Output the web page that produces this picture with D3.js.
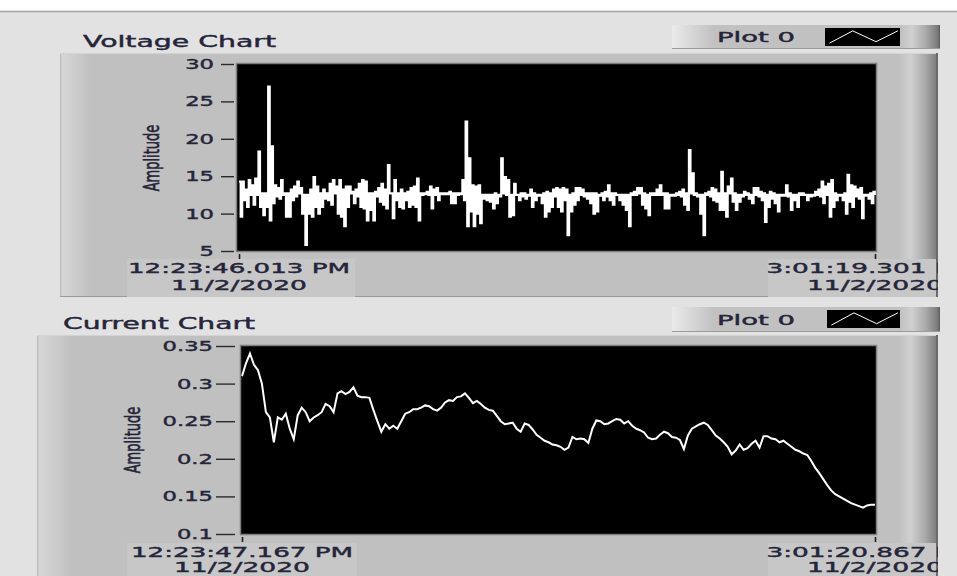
<!DOCTYPE html>
<html>
<head>
<meta charset="utf-8">
<script src="https://cdn.jsdelivr.net/npm/d3@7"></script>
<style>
  body { margin: 0; background: #ffffff; }
  svg { display: block; }
  text { font-family: "DejaVu Sans", sans-serif; fill: #25253a; stroke: #25253a; stroke-width: 0.4px; }
</style>
</head>
<body>
<svg id="chart" width="957" height="576"></svg>
<script>
// ---- data -------------------------------------------------------------
// Voltage samples (V), logged at a steady rate between the two time stamps.
const voltage = [
  14.3,9.6, 14.3,11.8, 13.2,10.9, 14.5,12.5, 13.8,11.2, 14.7,12.5, 18.3,10.9, 12.7,9.8, 12.7,10.9, 27.0,9.1,
  19.0,11.4, 13.8,12.3, 13.4,12.0, 14.5,12.5, 12.7,9.6, 12.7,9.6, 13.2,11.8, 13.6,12.3, 14.3,12.7, 13.4,10.0,
  12.5,5.8, 12.5,10.0, 13.2,9.6, 14.9,10.9, 13.6,10.0, 12.7,10.9, 13.2,12.0, 12.7,11.8, 14.0,11.2, 14.5,12.7,
  13.6,10.0, 14.5,9.6, 13.2,8.3, 13.6,10.9, 13.6,12.7, 12.9,11.4, 13.2,12.3, 14.0,10.9, 14.5,10.7, 14.3,9.1,
  12.7,10.5, 12.7,9.1, 12.9,12.3, 13.4,11.6, 14.0,11.2, 13.2,10.7, 16.5,12.7, 12.7,9.4, 14.5,11.8, 12.7,10.9,
  13.2,10.7, 12.7,11.8, 12.9,10.9, 13.4,11.2, 13.6,10.9, 14.7,9.1, 12.7,12.5, 12.7,12.6, 12.9,12.5, 13.6,10.7,
  13.2,12.5, 13.4,11.8, 12.7,12.6, 12.7,12.6, 12.7,12.6, 12.9,11.4,
  12.7,11.4, 12.7,12.5, 12.7,12.6, 14.5,11.8, 22.3,8.3, 17.4,10.3, 13.8,8.3, 13.6,10.0, 13.8,8.7, 12.5,12.0,
  12.5,11.8, 12.5,11.6, 12.5,10.7, 12.7,11.4, 12.5,12.3, 17.4,12.7, 14.9,12.5, 14.5,9.6, 12.5,9.8, 14.0,12.5,
  12.5,11.8, 12.7,12.3, 12.7,12.0, 12.5,12.4, 13.2,10.9, 12.7,11.8, 12.5,12.4, 12.5,11.4, 12.7,9.6, 12.9,10.3,
  12.7,10.9, 13.2,12.3, 13.4,10.9, 13.2,10.3, 13.4,11.8, 13.2,7.1, 12.5,10.3, 12.7,11.2, 13.4,11.8, 13.4,12.5,
  13.2,12.3, 12.7,12.0, 12.7,11.4, 12.7,10.0, 12.7,10.3, 12.5,12.4, 12.7,11.8, 12.9,12.3, 13.8,11.8, 12.7,11.2,
  12.7,12.5, 12.5,11.8, 12.5,11.2, 12.5,10.5, 12.5,8.3, 12.7,12.5, 12.9,12.5, 13.4,12.7, 13.4,11.2, 12.7,10.7,
  12.5,9.8, 12.7,12.5, 12.7,12.5, 13.2,12.5, 13.8,12.5, 12.7,10.7,
  12.7,10.7, 12.5,12.4, 12.5,12.4, 12.7,12.5, 12.9,12.3, 13.2,11.2, 12.7,10.5, 18.5,12.7, 15.4,12.5, 12.7,12.3,
  12.5,10.0, 12.5,7.1, 12.7,12.5, 12.9,12.3, 13.4,11.8, 13.2,11.6, 12.7,10.5, 15.6,10.5, 12.7,9.6, 13.6,12.7,
  14.7,11.6, 12.7,10.5, 12.5,11.6, 12.5,12.3, 12.9,12.5, 12.7,12.0, 12.5,11.4, 13.4,12.5, 13.4,12.3, 12.9,11.8,
  12.7,8.9, 12.5,10.9, 12.9,12.0, 12.7,11.4, 12.5,10.3, 12.5,12.4, 12.5,12.4, 13.8,12.3, 12.7,10.5, 12.5,11.8,
  12.5,10.9, 12.7,12.5, 12.7,12.5, 12.5,11.8, 12.5,12.3, 12.5,12.4, 12.9,12.5, 13.2,12.3, 14.3,11.4, 13.6,12.5,
  14.0,9.6, 14.5,10.9, 12.7,11.8, 12.5,12.4, 12.5,11.8, 12.7,10.0, 15.2,11.6, 13.8,10.9, 13.6,12.3, 13.2,12.0,
  13.4,9.4, 12.5,12.4, 12.5,12.0, 12.7,11.4, 12.9,12.5
];

// Current samples (A)
const current = [
  0.310,0.327,0.340,0.325,0.318,0.300,0.262,0.255,0.222,0.255,0.252,0.260,0.240,0.226,0.258,0.268,0.262,0.250,
  0.255,0.258,0.262,0.273,0.270,0.262,0.287,0.290,0.286,0.289,0.295,0.284,0.282,0.282,0.281,0.265,0.250,0.236,
  0.246,0.240,0.244,0.240,0.250,0.260,0.262,0.266,0.266,0.268,0.271,0.270,0.266,0.264,0.268,0.275,0.278,
  0.277,0.282,0.283,0.287,0.281,0.274,0.277,0.273,0.268,0.265,0.264,0.257,0.250,0.246,0.247,0.248,0.240,0.236,
  0.247,0.245,0.239,0.232,0.228,0.224,0.222,0.219,0.218,0.216,0.212,0.215,0.229,0.226,0.227,0.226,0.221,0.240,
  0.251,0.250,0.246,0.247,0.250,0.253,0.252,0.247,0.250,0.244,0.240,0.238,0.235,0.228,0.226,0.227,0.232,0.236,
  0.234,0.229,0.228,0.225,0.213,0.231,0.240,0.243,0.246,0.248,0.245,0.238,0.231,0.227,0.222,0.216,0.206,0.211,
  0.219,0.212,0.214,0.220,0.224,0.215,0.230,0.230,0.227,0.226,0.222,0.224,0.220,0.216,0.212,0.210,0.207,0.205,
  0.197,0.188,0.181,0.173,0.165,0.158,0.153,0.150,0.147,0.144,0.141,0.139,0.137,0.135,0.138,0.139,0.139
];

const voltageTicks = [5, 10, 15, 20, 25, 30];
const currentTicks = [0.1, 0.15, 0.2, 0.25, 0.3, 0.35];

const voltageSpan = [new Date(2020, 10, 2, 12, 23, 46, 13),  new Date(2020, 10, 2, 15, 1, 19, 301)];
const currentSpan = [new Date(2020, 10, 2, 12, 23, 47, 167), new Date(2020, 10, 2, 15, 1, 20, 867)];

const titles = ["Voltage Chart", "Current Chart"];
const plotName = "Plot 0";
const yTitle = "Amplitude";

// ---- drawing ----------------------------------------------------------
const svg = d3.select("#chart");
const SX = 1.62;                      // horizontal glyph stretch of the panel font
const fmtTime = d3.timeFormat("%-I:%M:%S.%L %p");
const fmtDate = d3.timeFormat("%-m/%-d/%Y");

const defs = svg.append("defs");
function hGrad(id, stops) {
  const g = defs.append("linearGradient").attr("id", id).attr("x1", 0).attr("x2", 1).attr("y1", 0).attr("y2", 0);
  stops.forEach(([o, c]) => g.append("stop").attr("offset", o).attr("stop-color", c));
}
hGrad("bevelL", [[0, "#b4b4b4"], [0.06, "#d6d6d6"], [0.55, "#cbcbcb"], [1, "#bfbfbf"]]);
hGrad("bevelR", [[0, "#c0c0c0"], [0.3, "#d0d0d0"], [0.65, "#a9a9a9"], [0.93, "#7c7c7c"], [1, "#5c5c5c"]]);
hGrad("legL",   [[0, "#eaeaea"], [1, "#c1c1c1"]]);

// window background
svg.append("rect").attr("width", 957).attr("height", 576).attr("fill", "#e2e2e2");
svg.append("rect").attr("width", 957).attr("height", 11).attr("fill", "#ffffff");
svg.append("line").attr("x1", 0).attr("x2", 957).attr("y1", 11.5).attr("y2", 11.5)
  .attr("stroke", "#a3a3a3").attr("stroke-width", 1.5);

function fitText(sel, width) {
  return sel.attr("textLength", width).attr("lengthAdjust", "spacingAndGlyphs");
}

function drawChart(cfg) {
  const g = svg.append("g");
  const P = cfg.panel, A = cfg.plot;

  // title
  fitText(g.append("text").attr("x", cfg.title.x).attr("y", cfg.title.y)
    .attr("font-size", 15).text(cfg.title.text), cfg.title.w);

  // legend box
  const L = cfg.legend;
  g.append("rect").attr("x", L.x).attr("y", L.y).attr("width", L.w).attr("height", L.h).attr("fill", "#c1c1c1");
  g.append("rect").attr("x", L.x).attr("y", L.y).attr("width", 42).attr("height", L.h).attr("fill", "url(#legL)");
  g.append("rect").attr("x", L.x + L.w - 40).attr("y", L.y).attr("width", 40).attr("height", L.h).attr("fill", "url(#bevelR)");
  g.append("line").attr("x1", L.x).attr("x2", L.x + L.w).attr("y1", L.y + L.h - 0.5).attr("y2", L.y + L.h - 0.5)
    .attr("stroke", "#9c9c9c");
  fitText(g.append("text").attr("x", L.x + 45).attr("y", L.y + L.h - 7)
    .attr("font-size", 14).text(plotName), 78);
  const S = cfg.swatch;
  g.append("rect").attr("x", S.x).attr("y", S.y).attr("width", S.w).attr("height", S.h).attr("fill", "#000");
  const sx = d3.scaleLinear().range([S.x, S.x + S.w]);
  const sy = d3.scaleLinear().range([S.y, S.y + S.h]);
  const icon = [[0.06, 0.84], [0.37, 0.16], [0.68, 0.76], [0.97, 0.16]];
  g.append("path").attr("d", d3.line(d => sx(d[0]), d => sy(d[1]))(icon))
    .attr("fill", "none").attr("stroke", "#fff").attr("stroke-width", 1);

  // panel frame
  const clipId = cfg.id + "-panel";
  defs.append("clipPath").attr("id", clipId).append("rect")
    .attr("x", P.x).attr("y", P.y).attr("width", P.w - 2).attr("height", P.h);
  const pg = g.append("g").attr("clip-path", `url(#${clipId})`);
  pg.append("rect").attr("x", P.x).attr("y", P.y).attr("width", P.w).attr("height", P.h).attr("fill", "#c0c0c0");
  pg.append("rect").attr("x", P.x).attr("y", P.y).attr("width", cfg.bevel).attr("height", P.h).attr("fill", "url(#bevelL)");
  pg.append("rect").attr("x", P.x + P.w - 42).attr("y", P.y).attr("width", 42).attr("height", P.h).attr("fill", "url(#bevelR)");
  pg.append("line").attr("x1", P.x).attr("x2", P.x + P.w).attr("y1", P.y + 0.5).attr("y2", P.y + 0.5).attr("stroke", "#d2d2d2");
  pg.append("line").attr("x1", P.x).attr("x2", P.x + P.w).attr("y1", P.y + P.h - 0.5).attr("y2", P.y + P.h - 0.5).attr("stroke", "#9a9a9a");
  cfg.labelBoxes.forEach(b => pg.append("rect").attr("x", b[0]).attr("y", b[1]).attr("width", b[2]).attr("height", b[3]).attr("fill", "#c7c7c7"));
  pg.append("rect").attr("x", P.x + P.w - 4).attr("y", P.y).attr("width", 4).attr("height", P.h).attr("fill", "#6a6a6a");

  // scales
  const x = d3.scaleTime().domain(cfg.span).range(cfg.xRange);
  const idx = d3.scaleLinear().domain([0, cfg.values.length - 1]).range(cfg.span);
  const y = d3.scaleLinear().domain(cfg.yDomain).range([A.y + A.h, A.y]);

  // y axis
  const ya = pg.append("g").attr("transform", `translate(${cfg.yAxisX},0)`)
    .call(d3.axisLeft(y).tickValues(cfg.yTicks).tickFormat(d3.format("~g"))
      .tickSize(cfg.tickLen).tickPadding(cfg.tickPad));
  ya.select(".domain").remove();
  ya.selectAll(".tick line").attr("stroke", "#2a2a2a").attr("stroke-width", 1.4);
  ya.selectAll(".tick text").attr("font-size", 14).attr("font-family", "DejaVu Sans").attr("fill", "#25253a")
    .each(function () {
      const t = d3.select(this);
      const tx = +t.attr("x");
      t.attr("x", 0).attr("transform", `translate(${tx},0) scale(${SX},1)`);
    });

  // y title
  pg.append("text").attr("transform", `translate(${cfg.yTitle[0]},${cfg.yTitle[1]}) scale(${SX},1) rotate(-90)`)
    .attr("text-anchor", "middle").attr("font-size", 13).text(yTitle);

  // plot area
  pg.append("rect").attr("x", A.x).attr("y", A.y).attr("width", A.w).attr("height", A.h).attr("fill", "#000");
  const plotClip = cfg.id + "-plot";
  defs.append("clipPath").attr("id", plotClip).append("rect")
    .attr("x", A.x).attr("y", A.y).attr("width", A.w).attr("height", A.h);
  pg.append("path").attr("clip-path", `url(#${plotClip})`)
    .attr("d", d3.line().curve(cfg.curve).x((d, i) => x(idx(i))).y(d => y(d))(cfg.values))
    .attr("fill", "none").attr("stroke", "#ffffff").attr("stroke-width", cfg.lineWidth)
    .attr("stroke-linejoin", "miter");
  pg.append("rect").attr("x", A.x - 0.5).attr("y", A.y - 0.5).attr("width", A.w + 1).attr("height", A.h + 1)
    .attr("fill", "none").attr("stroke", "#7e7e7e").attr("stroke-width", 1.5);

  // x axis: end ticks and two-line time stamps
  const xa = pg.append("g").attr("transform", `translate(0,${A.y + A.h + 3})`)
    .call(d3.axisBottom(x).tickValues(cfg.span).tickFormat("").tickSize(5));
  xa.select(".domain").remove();
  xa.selectAll(".tick line").attr("stroke", "#1e1e1e").attr("stroke-width", 1.6);
  cfg.span.forEach((d, i) => {
    const shift = i === 0 ? 0 : -5;
    fitText(pg.append("text").attr("x", x(d) + shift).attr("y", cfg.xLabelY[0]).attr("text-anchor", "middle")
      .attr("font-size", 14).text(fmtTime(d)), i === 0 ? 222 : 207);
    fitText(pg.append("text").attr("x", x(d)).attr("y", cfg.xLabelY[1]).attr("text-anchor", "middle")
      .attr("font-size", 14).text(fmtDate(d)), 136);
  });
}

drawChart({
  id: "volt",
  title: { text: titles[0], x: 83, y: 47, w: 193 },
  legend: { x: 672, y: 25, w: 268, h: 24 },
  swatch: { x: 825, y: 28, w: 75, h: 18 },
  panel: { x: 60, y: 53, w: 880, h: 244 },
  bevel: 32,
  plot: { x: 237, y: 64, w: 639, h: 187 },
  labelBoxes: [[127, 259, 228, 38], [768, 259, 172, 38]],
  span: voltageSpan,
  xRange: [239, 875],
  values: voltage,
  yDomain: [5, 30],
  yTicks: voltageTicks,
  yAxisX: 234, tickLen: 13, tickPad: 7,
  yTitle: [159, 158],
  xLabelY: [273, 290],
  curve: d3.curveStepAfter,
  lineWidth: 2.1
});

drawChart({
  id: "curr",
  title: { text: titles[1], x: 63, y: 329, w: 192 },
  legend: { x: 672, y: 307, w: 268, h: 25 },
  swatch: { x: 827, y: 310, w: 73, h: 18 },
  panel: { x: 37, y: 335, w: 903, h: 245 },
  bevel: 36,
  plot: { x: 241, y: 346, w: 635, h: 188 },
  labelBoxes: [[127, 543, 230, 40], [768, 543, 172, 40]],
  span: currentSpan,
  xRange: [242, 875],
  values: current,
  yDomain: [0.1, 0.35],
  yTicks: currentTicks,
  yAxisX: 235, tickLen: 19, tickPad: 3,
  yTitle: [140, 440],
  xLabelY: [557, 572],
  curve: d3.curveLinear,
  lineWidth: 2
});
</script>
</body>
</html>
